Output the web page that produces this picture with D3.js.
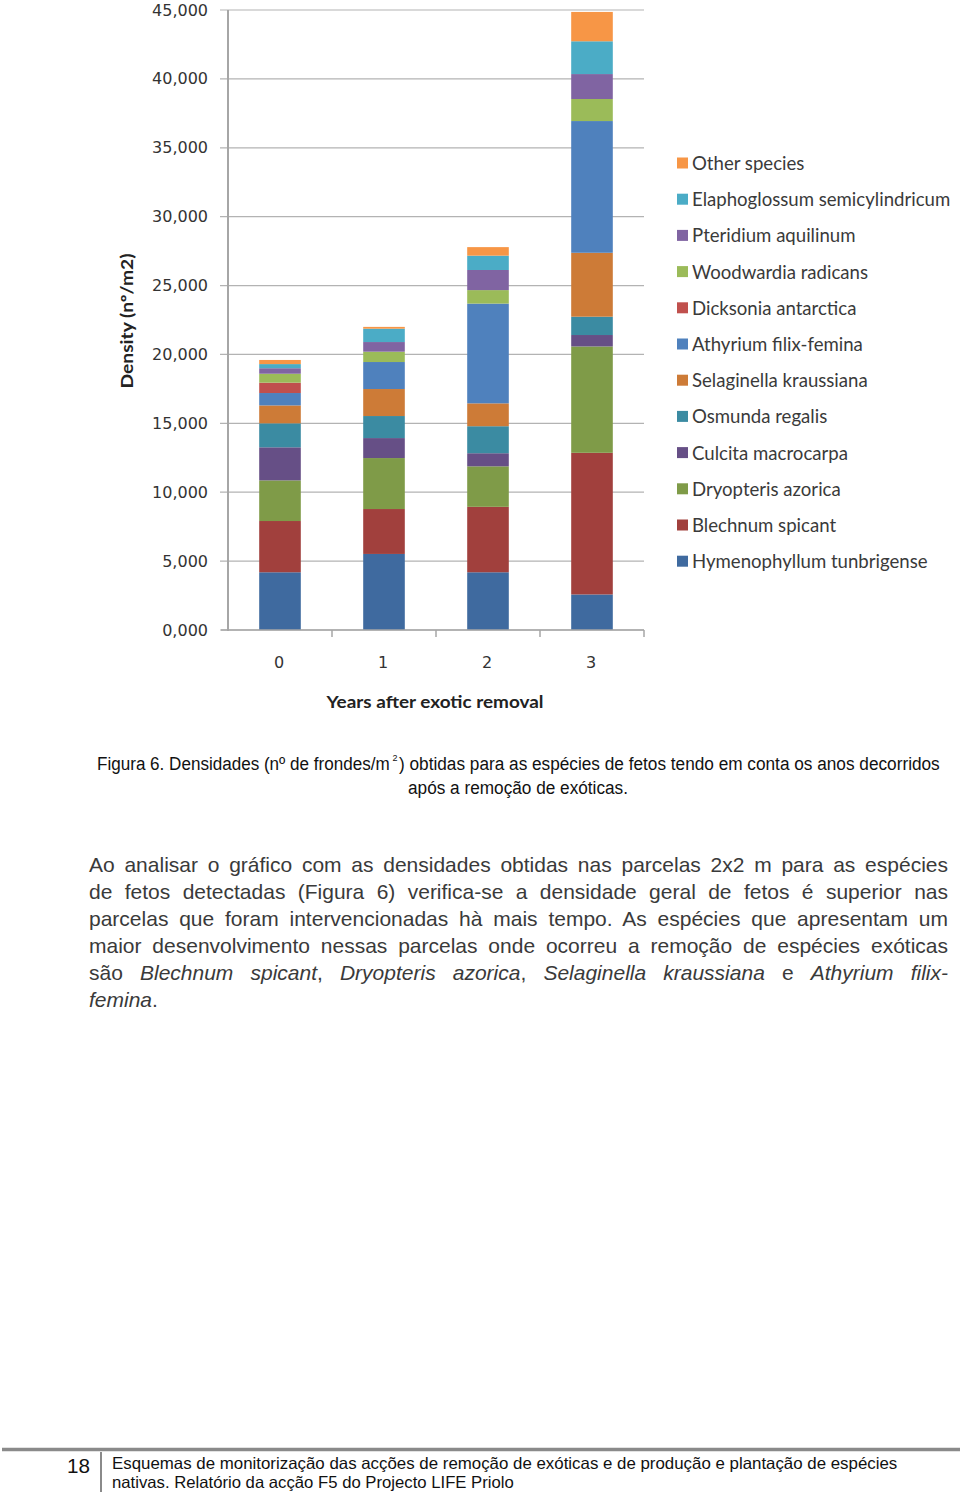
<!DOCTYPE html>
<html>
<head>
<meta charset="utf-8">
<script src="https://cdn.jsdelivr.net/npm/d3@7/dist/d3.min.js"></script>
<style>
  html, body { margin: 0; padding: 0; background: #fff; }
  #page { position: relative; width: 960px; height: 1492px; overflow: hidden; }
  svg { position: absolute; left: 0; top: 0; }
  #para { position: absolute; left: 89px; top: 851px; width: 859px;
          font-family: "Liberation Sans", Arial, sans-serif; font-size: 21px;
          line-height: 27px; color: #3a3a3a; }
  #para .ln { text-align: justify; text-align-last: justify; white-space: nowrap; }
  #para .last { text-align: left; text-align-last: left; }
</style>
</head>
<body>
<div id="page">
  <svg id="chart" width="960" height="1492"></svg>
  <div id="para"></div>
</div>
<script>
// anos desde a remoção
const years = ["0", "1", "2", "3"];

// espécies, de baixo para cima na pilha
const species = [
  "Hymenophyllum tunbrigense",
  "Blechnum spicant",
  "Dryopteris azorica",
  "Culcita macrocarpa",
  "Osmunda regalis",
  "Selaginella kraussiana",
  "Athyrium filix-femina",
  "Dicksonia antarctica",
  "Woodwardia radicans",
  "Pteridium aquilinum",
  "Elaphoglossum semicylindricum",
  "Other species"
];

// densidades (nº/m2), ano 0..3
const hymenophyllum = [4190, 5520, 4190, 2580];
const blechnum      = [3720, 3260, 4750, 10280];
const dryopteris    = [2950, 3700, 2940, 7720];
const culcita       = [2400, 1450, 950, 830];
const osmunda       = [1740, 1600, 1960, 1330];
const selaginella   = [1300, 1960, 1660, 4640];
const athyrium      = [900, 1960, 7240, 9560];
const dicksonia     = [750, 0, 0, 0];
const woodwardia    = [650, 750, 980, 1600];
const pteridium     = [400, 700, 1460, 1810];
const elaphoglossum = [300, 970, 1040, 2380];
const others        = [300, 130, 620, 2130];

const yTicks = [0, 5000, 10000, 15000, 20000, 25000, 30000, 35000, 40000, 45000];

const colors = ["#3f6a9f", "#a1403d", "#7f9b48", "#664f86", "#3b8ba2", "#cd7b37",
                "#4f81bd", "#c0504d", "#9bbb59", "#8064a2", "#4bacc6", "#f79646"];

const seriesValues = [hymenophyllum, blechnum, dryopteris, culcita, osmunda, selaginella,
                      athyrium, dicksonia, woodwardia, pteridium, elaphoglossum, others];

// tabela para o d3.stack
const table = years.map((yr, i) => {
  const row = { year: yr };
  species.forEach((s, j) => { row[s] = seriesValues[j][i]; });
  return row;
});

const svg = d3.select("#chart");

const x = d3.scaleBand()
  .domain(years)
  .range([228, 644])
  .paddingInner(0.6)
  .paddingOuter(0.3);

const y = d3.scaleLinear()
  .domain([0, 45000])
  .range([630, 10]);

const color = d3.scaleOrdinal().domain(species).range(colors);

// texto estreito: mede e comprime na horizontal até à largura pedida
function narrowText(parent, px, py, str, width, size, anchor) {
  const g = parent.append("g");
  const t = g.append("text").style("font-size", size + "px").text(str);
  const len = t.node().getComputedTextLength();
  const sx = width / len;
  const x0 = anchor === "middle" ? px - width / 2 : px;
  g.attr("transform", `translate(${x0},${py}) scale(${sx},1)`);
  return g;
}

// grelha
svg.append("g")
  .selectAll("line")
  .data(yTicks)
  .join("line")
  .attr("x1", 220)
  .attr("x2", 644)
  .attr("y1", d => y(d))
  .attr("y2", d => y(d))
  .attr("stroke", "#b3b3b3")
  .attr("stroke-width", 1.2);

// etiquetas do eixo y (formato "45,000")
svg.append("g")
  .selectAll("text")
  .data(yTicks)
  .join("text")
  .attr("x", 208)
  .attr("y", d => y(d))
  .attr("dy", "0.35em")
  .attr("text-anchor", "end")
  .style("font-family", "DejaVu Sans, Verdana, sans-serif")
  .style("font-size", "16px")
  .attr("fill", "#333")
  .text(d => Math.floor(d / 1000) + ",000");

// barras empilhadas
const stacked = d3.stack().keys(species)(table);

svg.append("g")
  .selectAll("g")
  .data(stacked)
  .join("g")
  .attr("fill", d => color(d.key))
  .selectAll("rect")
  .data(d => d)
  .join("rect")
  .attr("x", d => x(d.data.year))
  .attr("width", x.bandwidth())
  .attr("y", d => y(d[1]))
  .attr("height", d => y(d[0]) - y(d[1]));

// eixos
svg.append("line")
  .attr("x1", 228).attr("x2", 228)
  .attr("y1", y(45000)).attr("y2", y(0) + 1)
  .attr("stroke", "#a6a6a6").attr("stroke-width", 2);

svg.append("line")
  .attr("x1", 221).attr("x2", 644)
  .attr("y1", y(0)).attr("y2", y(0))
  .attr("stroke", "#a6a6a6").attr("stroke-width", 1.5);

// marcas do eixo x, nas fronteiras das categorias
const edges = d3.range(1, years.length + 1).map(i => x.range()[0] + i * x.step());
svg.append("g")
  .selectAll("line")
  .data(edges)
  .join("line")
  .attr("x1", d => d).attr("x2", d => d)
  .attr("y1", y(0)).attr("y2", y(0) + 7)
  .attr("stroke", "#a6a6a6").attr("stroke-width", 1.5);

svg.append("g")
  .selectAll("text")
  .data(years)
  .join("text")
  .attr("x", d => x(d) + x.bandwidth() / 2 - 1)
  .attr("y", 668)
  .attr("text-anchor", "middle")
  .style("font-family", "DejaVu Sans, Verdana, sans-serif")
  .style("font-size", "16px")
  .attr("fill", "#333")
  .text(d => d);

// títulos dos eixos
svg.append("text")
  .attr("x", 435)
  .attr("y", 708)
  .attr("text-anchor", "middle")
  .attr("textLength", 217)
  .attr("lengthAdjust", "spacingAndGlyphs")
  .style("font-family", "Lato, sans-serif")
  .style("font-weight", "bold")
  .style("font-size", "17px")
  .attr("fill", "#222")
  .text("Years after exotic removal");

svg.append("text")
  .attr("transform", "translate(133,321) rotate(-90)")
  .attr("text-anchor", "middle")
  .attr("textLength", 135)
  .attr("lengthAdjust", "spacingAndGlyphs")
  .style("font-family", "Lato, sans-serif")
  .style("font-weight", "bold")
  .style("font-size", "17px")
  .attr("fill", "#222")
  .text("Density (nº/m2)");

// legenda (ordem inversa, como no original)
const legendItems = species.slice().reverse();
const legend = svg.append("g")
  .selectAll("g")
  .data(legendItems)
  .join("g")
  .attr("transform", (d, i) => `translate(677,${163.5 + i * 36.2})`);

legend.append("rect")
  .attr("x", 0).attr("y", -6)
  .attr("width", 11).attr("height", 11)
  .attr("fill", d => color(d));

legend.append("text")
  .attr("x", 15)
  .attr("dy", "0.35em")
  .style("font-family", "Lato, sans-serif")
  .style("font-size", "18.6px")
  .attr("fill", "#3a3a3a")
  .text(d => d);

// legenda da figura
const cap = svg.append("g")
  .style("font-family", "Liberation Sans, Arial, sans-serif")
  .attr("fill", "#111");

narrowText(cap, 97, 770, "Figura 6. Densidades (nº de frondes/m", 293, 19);
cap.append("text")
  .attr("x", 392.5).attr("y", 761)
  .style("font-size", "9px")
  .text("2");
narrowText(cap, 399, 770, ") obtidas para as espécies de fetos tendo em conta os anos decorridos", 541, 19);
narrowText(cap, 518, 794, "após a remoção de exóticas.", 220, 19, "middle");

// parágrafo justificado
const paraLines = [
  ["Ao analisar o gráfico com as densidades obtidas nas parcelas 2x2 m para as espécies"],
  ["de fetos detectadas (Figura 6) verifica-se a densidade geral de fetos é superior nas"],
  ["parcelas que foram intervencionadas hà mais tempo. As espécies que apresentam um"],
  ["maior desenvolvimento nessas parcelas onde ocorreu a remoção de espécies exóticas"],
  ["são ", "<i>Blechnum spicant</i>", ", ", "<i>Dryopteris azorica</i>", ", ",
   "<i>Selaginella kraussiana</i>", " e ", "<i>Athyrium filix-</i>"],
  ["<i>femina</i>", "."]
];

d3.select("#para")
  .selectAll("div")
  .data(paraLines)
  .join("div")
  .attr("class", (d, i) => i === paraLines.length - 1 ? "ln last" : "ln")
  .html(d => d.join(""));

// rodapé
svg.append("line")
  .attr("x1", 2).attr("x2", 960)
  .attr("y1", 1449.5).attr("y2", 1449.5)
  .attr("stroke", "#8a8a8a").attr("stroke-width", 3.5);

svg.append("line")
  .attr("x1", 101).attr("x2", 101)
  .attr("y1", 1452).attr("y2", 1492)
  .attr("stroke", "#8a8a8a").attr("stroke-width", 2);

const foot = svg.append("g")
  .style("font-family", "Liberation Sans, Arial, sans-serif")
  .attr("fill", "#111");

narrowText(foot, 67, 1473, "18", 23, 21);
narrowText(foot, 112, 1469,
  "Esquemas de monitorização das acções de remoção de exóticas e de produção e plantação de espécies", 786, 16.5);
narrowText(foot, 112, 1488, "nativas. Relatório da acção F5 do Projecto LIFE Priolo", 402, 16.5);
</script>
</body>
</html>
